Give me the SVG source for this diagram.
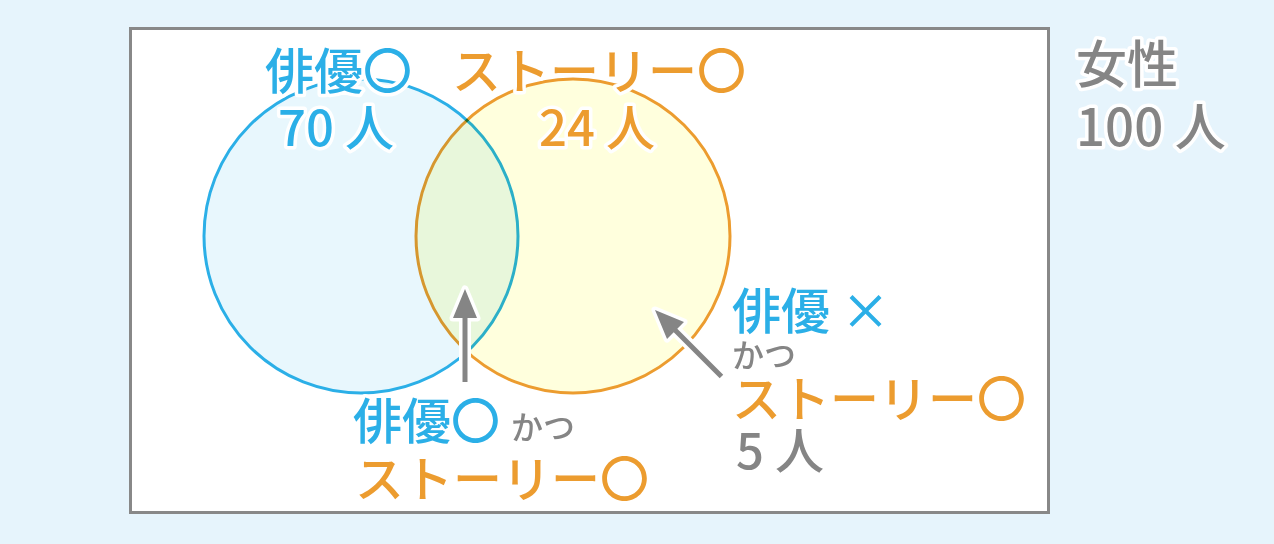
<svg xmlns="http://www.w3.org/2000/svg" width="1274" height="544" viewBox="0 0 1274 544">
<style>
.t{font-family:"Noto Sans CJK JP","Noto Sans",sans-serif;font-weight:500;paint-order:stroke;stroke:#fff;stroke-width:7;stroke-linejoin:round}
.b{fill:#2bafe7}
.o{fill:#ec9c2f}
.g{fill:#858585}
.L{font-size:49px}
.S{font-size:32px}
.arr{fill:#858585;stroke:none}
.halo{fill:#fff;stroke:#fff;stroke-width:7;stroke-linejoin:round}
</style>
<rect x="0" y="0" width="1274" height="544" fill="#e6f4fc"/>
<g id="frame"><rect x="130.5" y="28.5" width="918" height="484" fill="#fff" stroke="#888" stroke-width="3"/></g>
<g id="actor-circle"><circle cx="361" cy="236" r="157" fill="#e8f7fd" stroke="#2bafe7" stroke-width="3"/></g>
<g id="story-circle" style="mix-blend-mode:multiply"><circle cx="573" cy="236" r="157" fill="#ffffdd" stroke="#ec9c2f" stroke-width="3"/></g>
<g id="connectors">
<path class="halo" d="M462.5 382 V318 H453 L465 289 L477 318 H467.5 V382 Z"/>
<path class="arr" d="M462.5 382 V318 H453 L465 289 L477 318 H467.5 V382 Z"/>
<g transform="translate(655,310) rotate(-45)">
<path class="halo" d="M0 0 L12 29 H2.5 V94 H-2.5 V29 H-12 Z"/>
<path class="arr" d="M0 0 L12 29 H2.5 V94 H-2.5 V29 H-12 Z"/>
</g>
</g>
<g id="label-actor">
<text class="t L b" x="265" y="89">俳優〇</text>
<text class="t L b" x="336" y="146" text-anchor="middle">70 人</text>
</g>
<g id="label-story">
<text class="t L o" x="452" y="89">ストーリー〇</text>
<text class="t L o" x="597" y="146" text-anchor="middle">24 人</text>
</g>
<g id="label-total">
<text class="t g" x="1076" y="83" font-size="51">女性</text>
<text class="t g" x="1076" y="146" font-size="51">100 人</text>
</g>
<g id="label-both">
<text class="t L b" x="353" y="439">俳優〇</text>
<text class="t S g" x="511" y="439">かつ</text>
<text class="t L o" x="355" y="497">ストーリー〇</text>
</g>
<g id="label-storyonly">
<text class="t L b" x="732" y="329">俳優 ×</text>
<text class="t S g" x="732" y="367">かつ</text>
<text class="t L o" x="732" y="417">ストーリー〇</text>
<text class="t L g" x="736" y="469">5 人</text>
</g>
</svg>
